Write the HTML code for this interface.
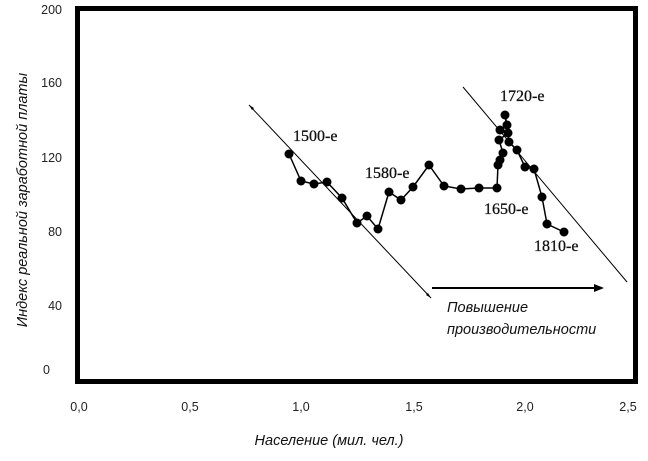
<!DOCTYPE html>
<html><head><meta charset="utf-8"><style>
body{margin:0;background:#fff;width:648px;height:461px;overflow:hidden}
svg{display:block}
.t{font-family:"Liberation Sans",sans-serif;font-size:12.5px;fill:#222}
.s{font-family:"Liberation Serif",serif;font-size:16px;fill:#111;stroke:#111;stroke-width:0.3}
.i{font-family:"Liberation Sans",sans-serif;font-style:italic;font-size:14.5px;fill:#111}
</style></head><body>
<svg width="648" height="461" xmlns="http://www.w3.org/2000/svg">
<rect x="77.5" y="8.5" width="558" height="373" fill="none" stroke="#000" stroke-width="5"/>
<g class="t" text-anchor="end">
<text x="62" y="14">200</text><text x="62" y="87">160</text><text x="62" y="162">120</text>
<text x="62" y="236">80</text><text x="62" y="310">40</text><text x="50" y="374">0</text>
</g>
<g class="t" text-anchor="middle">
<text x="79" y="411">0,0</text><text x="190" y="411">0,5</text><text x="301" y="411">1,0</text>
<text x="414" y="411">1,5</text><text x="525" y="411">2,0</text><text x="628" y="411">2,5</text>
</g>
<text class="i" x="329" y="445" text-anchor="middle">Население (мил. чел.)</text>
<text class="i" transform="translate(27,200) rotate(-90)" text-anchor="middle">Индекс реальной заработной платы</text>
<g stroke="#000" stroke-width="1" fill="none">
<line x1="249" y1="105" x2="431" y2="298"/>
<line x1="463" y1="87" x2="627" y2="282"/>
<polyline stroke-width="1.5" points="289,154 301,181 314,184 327,182 342,198 357,223 367,216 378,229 389,192 401,200 413,187 429,165 444,186 461,189 479,188 497,188 498,165 500,160 503,153 499,140 508,133 500,130 507,125 505,115 509,142 517,150 525,167 534,169 542,197 547,224 564,232"/>
<line x1="432" y1="288" x2="598" y2="288" stroke-width="2"/>
</g>
<polygon points="604,288 594,284 594,292" fill="#000"/>
<polygon points="249,105 254,108 252,110" fill="#000"/>
<polygon points="431,298 426,295 428,293" fill="#000"/>
<g fill="#000">
<circle cx="289" cy="154" r="4.5"/><circle cx="301" cy="181" r="4.5"/><circle cx="314" cy="184" r="4.5"/><circle cx="327" cy="182" r="4.5"/><circle cx="342" cy="198" r="4.5"/><circle cx="357" cy="223" r="4.5"/><circle cx="367" cy="216" r="4.5"/><circle cx="378" cy="229" r="4.5"/><circle cx="389" cy="192" r="4.5"/><circle cx="401" cy="200" r="4.5"/><circle cx="413" cy="187" r="4.5"/><circle cx="429" cy="165" r="4.5"/><circle cx="444" cy="186" r="4.5"/><circle cx="461" cy="189" r="4.5"/><circle cx="479" cy="188" r="4.5"/><circle cx="497" cy="188" r="4.5"/><circle cx="498" cy="165" r="4.5"/><circle cx="500" cy="160" r="4.5"/><circle cx="503" cy="153" r="4.5"/><circle cx="499" cy="140" r="4.5"/><circle cx="508" cy="133" r="4.5"/><circle cx="500" cy="130" r="4.5"/><circle cx="507" cy="125" r="4.5"/><circle cx="505" cy="115" r="4.5"/><circle cx="509" cy="142" r="4.5"/><circle cx="517" cy="150" r="4.5"/><circle cx="525" cy="167" r="4.5"/><circle cx="534" cy="169" r="4.5"/><circle cx="542" cy="197" r="4.5"/><circle cx="547" cy="224" r="4.5"/><circle cx="564" cy="232" r="4.5"/>
</g>
<text class="s" x="293" y="141">1500-е</text>
<text class="s" x="365" y="178">1580-е</text>
<text class="s" x="500" y="101">1720-е</text>
<text class="s" x="484" y="214">1650-е</text>
<text class="s" x="534" y="251">1810-е</text>
<text class="i" x="447" y="312">Повышение</text>
<text class="i" x="447" y="334">производительности</text>
</svg>
</body></html>
